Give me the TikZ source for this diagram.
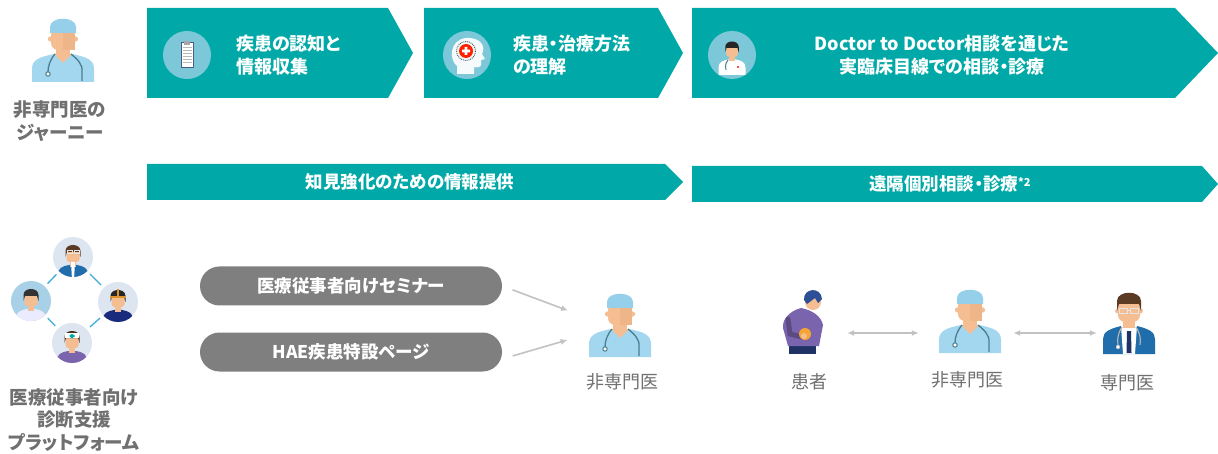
\documentclass[tikz,border=0pt]{standalone}
\usepackage{fontspec}
\setmainfont{Noto Sans CJK JP}[RawFeature=+palt]
\usetikzlibrary{arrows.meta}

\definecolor{band}{HTML}{00A9A7}
\definecolor{iconbg}{HTML}{7DC8D8}
\definecolor{pillgray}{HTML}{7F7F7F}
\definecolor{capgray}{HTML}{707070}
\definecolor{arrgray}{HTML}{C2C2C2}
\definecolor{scrub}{HTML}{A3D7F0}
\definecolor{capblue}{HTML}{96CFEA}
\definecolor{skin}{HTML}{F5BD92}
\definecolor{steth}{HTML}{4C7D8F}
\definecolor{suit}{HTML}{1F6DAA}
\definecolor{hair}{HTML}{5B3B24}
\definecolor{netline}{HTML}{3DAEDB}
\definecolor{netbg}{HTML}{DCE5F0}
\definecolor{netblue}{HTML}{A8D1E7}
\definecolor{sweater}{HTML}{7A64AE}
\definecolor{navy}{HTML}{1E3265}
\definecolor{pathair}{HTML}{2D4F96}
\definecolor{ache}{HTML}{F5A531}

% x1, x2, top, bottom, depth of the point
\newcommand{\chevbar}[5]{%
  \fill[band] (#1,#3) -- ({#2-#5},#3) -- (#2,{(#3+#4)/2}) -- ({#2-#5},#4) -- (#1,#4) -- cycle;}

\tikzset{
  pics/nonspec/.style={code={
    \fill[scrub] (-31,31) -- (-31,18) .. controls (-31,9) and (-24,6) .. (-9,3) -- (9,3) .. controls (24,6) and (31,9) .. (31,18) -- (31,31) -- cycle;
    \fill[skin] (-7,-6) rectangle (7,4);
    \fill[skin] (-9,3) -- (9,3) -- (0,12) -- cycle;
    \fill[skin] (-12.5,-12) circle (2.6) (12.5,-12) circle (2.6);
    \fill[skin,rounded corners=7] (-12,-23) rectangle (12,-1);
    \fill[skin!88!brown] (0,-23) -- (12,-23) -- (12,-1) -- (0,-1) -- cycle;
    \fill[capblue] (-13,-18) -- (-13,-24) .. controls (-13,-35) and (13,-35) .. (13,-24) -- (13,-18) -- cycle;
    \draw[steth,line width=1.3pt] (-8,3) .. controls (-13,9) and (-15,15) .. (-15,21);
    \filldraw[fill=white,draw=steth,line width=1pt] (-15,23) circle (2.2);
    \draw[steth,line width=1.3pt] (8,3) .. controls (14,8) and (20,13) .. (19,21) -- (19,30);
  }},
  pics/spec/.style={code={
    \fill[suit] (-26,31) -- (-26,16) .. controls (-26,9) and (-20,6) .. (-8,3) -- (8,3) .. controls (20,6) and (26,9) .. (26,16) -- (26,31) -- cycle;
    \fill[white] (-8,3) -- (8,3) -- (6,31) -- (-6,31) -- cycle;
    \fill[skin] (-6,-6) rectangle (6,5);
    \fill[navy] (-2,8) -- (2,8) -- (2.5,30) -- (-2.5,30) -- cycle;
    \draw[gray!60,line width=1.2pt] (-7,4) .. controls (-11,10) and (-12,16) .. (-11,22);
    \draw[gray!60,line width=1.2pt] (7,4) .. controls (11,10) and (12,16) .. (11,22);
    \filldraw[fill=white,draw=gray!70] (-11,24) circle (2);
    \fill[skin] (-11.5,-12) circle (2.4) (11.5,-12) circle (2.4);
    \fill[skin,rounded corners=7] (-11,-23) rectangle (11,-1);
    \fill[hair] (-12,-12) -- (-12,-22) .. controls (-12,-33) and (12,-33) .. (12,-22) -- (12,-12) -- (10,-19) -- (-10,-19) -- cycle;
    \draw[white!80!gray,line width=1pt] (-9.5,-14) rectangle (-1.5,-9) (1.5,-14) rectangle (9.5,-9) (-1.5,-12) -- (1.5,-12);
  }},
  pics/patient/.style={code={
    \fill[navy] (-16,21) rectangle (11,32);
    \fill[sweater] (-4,-14) .. controls (-15,-11) and (-23,-3) .. (-22,6) -- (-17,24) -- (14,24) -- (18,3) .. controls (16,-6) and (7,-12) .. (-4,-14) -- cycle;
    \draw[sweater!75!black,line width=5pt,line cap=round] (-17,-3) -- (-15,12) -- (-3,15);
    \fill[ache] (0,12) circle (6);
    \fill[skin] (-1,14) circle (3);
    \fill[skin] (8,-20) circle (8);
    \fill[pathair] (-1,-22) .. controls (-2,-34) and (16,-36) .. (17,-23) -- (13,-19) -- (10,-24) -- (2,-18) -- cycle;
  }},
  pics/bust/.style 2 args={code={
    \fill[#2] (-15,22) -- (-15,14) .. controls (-15,8) and (-10,6) .. (-4,5) -- (4,5) .. controls (10,6) and (15,8) .. (15,14) -- (15,22) -- cycle;
    \fill[skin] (-3,-1) rectangle (3,7);
    \fill[skin,rounded corners=3] (-6.5,-11) rectangle (6.5,2);
    \fill[#1] (-7.5,-3) -- (-7.5,-9) .. controls (-7.5,-17) and (7.5,-17) .. (7.5,-9) -- (7.5,-3) -- (6,-8) -- (-6,-8) -- cycle;
  }},
}

\begin{document}
\begin{tikzpicture}[x=1pt,y=-1pt,>={Latex[length=7pt,width=6pt]},
  chevtext/.style={text=white,font=\bfseries\fontsize{18}{23}\selectfont,inner sep=0pt},
  bartext/.style={text=white,font=\bfseries\fontsize{17.5}{20}\selectfont,inner sep=0pt},
  iconcirc/.style={circle,fill=iconbg,minimum size=48pt,inner sep=0pt},
  pilltag/.style={fill=pillgray,rounded corners=19.5pt,minimum width=302pt,minimum height=39pt,
    text=white,font=\bfseries\fontsize{17.5}{20}\selectfont,inner sep=0pt},
  sidelabel/.style={text=capgray,font=\bfseries\fontsize{18.5}{22.5}\selectfont,align=center,inner sep=0pt},
  caption/.style={text=capgray,font=\fontsize{18}{20}\selectfont,inner sep=0pt},
  iconbox/.style={minimum width=#1,minimum height=60pt,inner sep=0pt},
  netnode/.style={circle,fill=netbg,minimum size=40pt,inner sep=0pt,outer sep=4pt},
  feed/.style={->,draw=arrgray,line width=1.6pt,shorten <=11pt,shorten >=21pt},
  link/.style={<->,draw=arrgray,line width=1.4pt}]

  \fill[white] (0,0) rectangle (1218,454);
  \useasboundingbox (0,0) rectangle (1218,454);

  % journey of the non-specialist
  \pic at (63,51) {nonspec};
  \node[sidelabel] (journey) at (60,121) {非専門医の\\ジャーニー};

  \chevbar{147}{413}{8}{98}{25}
  \chevbar{424}{683}{8}{98}{25}
  \chevbar{692}{1218}{8}{98}{43}

  \node[iconcirc] (icoA) at (187,55) {};
  \filldraw[fill=white,draw=navy!80,line width=1pt] (181,43) rectangle (193,68);
  \foreach \yy in {48,51,...,65} {\draw[gray!55,line width=1pt] (182.5,\yy) -- (191.5,\yy);}
  \fill[gray!70] (184,41) rectangle (190,45);
  \node[chevtext,anchor=west,align=left] (stepA) at (236,55) {疾患の認知と\\情報収集};

  \node[iconcirc] (icoB) at (467,55) {};
  \fill[white!92!iconbg] (457,74) -- (457,66) .. controls (449,60) and (449,40) .. (466,38) .. controls (481,37) and (486,47) .. (482,54) -- (485,59) -- (481,60) -- (481,65) .. controls (481,67) and (477,68) .. (474,67) -- (474,74) -- cycle;
  \draw[gray!60!black,densely dotted,line width=0.9pt] (466,51) circle (9.5);
  \fill[red!75!orange] (466,51) circle (7);
  \fill[white] (464.6,47) rectangle (467.4,55) (462,49.6) rectangle (470,52.4);
  \node[chevtext,anchor=west,align=left] (stepB) at (513,55) {疾患・治療方法\\の理解};

  \node[iconcirc] (icoC) at (732,55) {};
  \pic[scale=0.9] at (732,55) {bust={black!85}{white}};
  \draw[steth,line width=1pt] (728,60) .. controls (725,64) and (725,67) .. (726,70);
  \fill[red!70] (737,66) rectangle (739,68);
  \node[chevtext,align=center] (stepC) at (942,55) {Doctor to Doctor相談を通じた\\実臨床目線での相談・診療};

  \chevbar{147}{683}{164}{200}{18}
  \chevbar{692}{1218}{166}{202}{16}
  \node[bartext] (infoBar) at (410,182) {知見強化のための情報提供};
  \node[bartext] (remoteBar) at (950,184) {遠隔個別相談・診療\raisebox{4pt}{\fontsize{11}{11}\selectfont *2}};

  % diagnosis support platform
  \node[netnode] (nTop) at (73,257) {};
  \node[netnode,fill=netblue] (nLeft) at (31,301) {};
  \node[netnode] (nRight) at (118,302) {};
  \node[netnode] (nBottom) at (72,343) {};
  \foreach \a/\b in {nTop/nLeft,nTop/nRight,nLeft/nBottom,nRight/nBottom} {\draw[netline,line width=1.3pt] (\a) -- (\b);}
  \begin{scope}
    \clip (nTop) circle (20);
    \pic at (73,260) {bust={hair}{suit}};
    \fill[white] (71,262) -- (75,262) -- (74,280) -- (72,280) -- cycle;
    \draw[white!80!gray,line width=0.8pt] (67,250) rectangle (72,253) (74,250) rectangle (79,253);
  \end{scope}
  \begin{scope}
    \clip (nLeft) circle (20);
    \pic at (31,304) {bust={black!80}{white!92!blue}};
  \end{scope}
  \begin{scope}
    \clip (nRight) circle (20);
    \pic at (118,305) {bust={black!85}{navy!85!blue}};
    \draw[ache!90!black,line width=1.6pt] (110,297) -- (126,297);
    \draw[ache!90!black,line width=1.2pt] (118,289) -- (118,297);
  \end{scope}
  \begin{scope}
    \clip (nBottom) circle (20);
    \pic at (72,346) {bust={hair!80!black}{sweater}};
    \fill[white] (65,333) rectangle (79,338);
    \fill[band] (70.8,334) rectangle (73.2,338) (69.5,334.8) rectangle (74.5,337.2);
  \end{scope}
  \node[sidelabel] (platform) at (74,420) {医療従事者向け\\診断支援\\プラットフォーム};

  % information channels
  \node[pilltag] (seminar) at (351,286) {医療従事者向けセミナー};
  \node[pilltag] (hae) at (351,352) {HAE疾患特設ページ};
  \node[iconbox=64pt] (docA) at (620,326) {};
  \pic at (620,326) {nonspec};
  \node[caption] (docAlbl) at (622,382) {非専門医};
  \draw[feed] (seminar.east) -- ([yshift=8pt]docA.west);
  \draw[feed] ([yshift=-7pt]hae.east) -- ([yshift=-8pt]docA.west);

  % remote consultation
  \node[iconbox=46pt] (patient) at (805,333) {};
  \pic at (805,322) {patient};
  \node[caption] (patientlbl) at (809,382) {患者};
  \node[iconbox=64pt] (docB) at (970,333) {};
  \pic at (970,322) {nonspec};
  \node[caption] (docBlbl) at (967,380) {非専門医};
  \node[iconbox=52pt] (specialist) at (1129,333) {};
  \pic at (1129,323) {spec};
  \node[caption] (speclbl) at (1127,383) {専門医};
  \draw[link,shorten <=19pt,shorten >=19pt] (patient.east) -- (docB.west);
  \draw[link,shorten <=11pt,shorten >=6pt] (docB.east) -- (specialist.west);
\end{tikzpicture}
\end{document}
